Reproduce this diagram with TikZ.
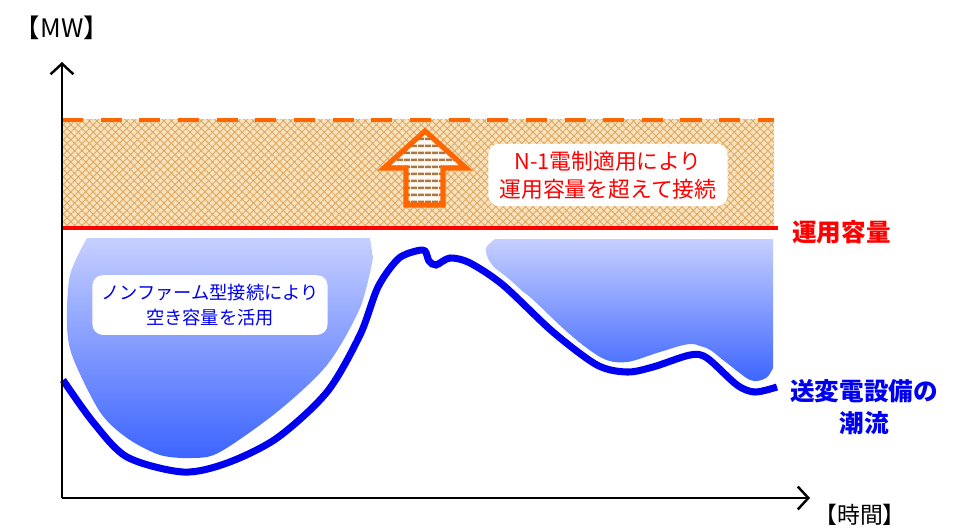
\documentclass[tikz,border=0pt]{standalone}
\usepackage{fontspec}
\newfontfamily\jp{Noto Sans CJK JP}
\usetikzlibrary{arrows.meta,patterns.meta,positioning}
\definecolor{capred}{RGB}{255,0,0}
\definecolor{flowblue}{RGB}{0,0,240}
\definecolor{bandorange}{RGB}{255,102,0}
\definecolor{bandbg}{RGB}{248,226,190}
\definecolor{hatchtan}{RGB}{222,168,96}
\definecolor{stripebrown}{RGB}{170,120,70}
\definecolor{fadeblue}{RGB}{198,208,255}
\definecolor{deepblue}{RGB}{60,100,255}
\begin{document}
\begin{tikzpicture}[x=0.02cm, y={(0,-0.02cm)}, font=\jp,
    axis/.style={line width=1.4pt, -{Straight Barb[length=6pt, width=13pt, line width=1.4pt]}},
    notebox/.style={fill=white, rounded corners=6pt, inner sep=4pt, align=center},
    region/.style={shade, top color=fadeblue, bottom color=deepblue}]
    \useasboundingbox (0,0) rectangle (955,531);
    % Band above the operating capacity
    \fill[bandbg] (62,119) rectangle (774,228);
    \fill[pattern={Hatch[angle=45, distance=3pt, line width=0.5pt]}, pattern color=hatchtan] (62,119) rectangle (774,228);
    \draw[bandorange, line width=2.6pt, dash pattern=on 12pt off 10pt] (62,120) -- (774,120);
    % Up arrow
    \fill[white!85!bandbg] (425,131) -- (466,168) -- (443,168) -- (443,205) -- (406,205) -- (406,168) -- (384,168) -- cycle;
    \fill[pattern={Lines[angle=0, distance=4pt, line width=1.6pt]}, pattern color=stripebrown] (425,131) -- (466,168) -- (443,168) -- (443,205) -- (406,205) -- (406,168) -- (384,168) -- cycle;
    \draw[bandorange, line width=3pt, line join=miter] (425,131) -- (466,168) -- (443,168) -- (443,205) -- (406,205) -- (406,168) -- (384,168) -- cycle;
    \node[notebox, text=capred, font=\jp\fontsize{12.4}{16}\selectfont, minimum width=240*0.567pt, minimum height=60*0.567pt] (over) at (608,175) {N-1電制適用により\\運用容量を超えて接続};
    % Free capacity regions
    \path[region] (87,238) -- (370,238) -- plot[smooth] coordinates {(373,258) (360,308) (327,365) (277,412) (220,452) (193,458) (160,455) (127,438) (100,412) (73,358) (67,325) (70,275) (87,238)} -- cycle;
    \path[region] (495,239) -- (773,239) -- plot[smooth] coordinates {(773,368) (766,378) (750,380) (720,358) (693,344) (660,352) (627,362) (600,358) (565,330) (530,297) (510,283) (490,262) (486,248) (495,239)} -- cycle;
    \node[notebox, text=flowblue, font=\jp\fontsize{10.4}{14}\selectfont, minimum width=236*0.567pt, minimum height=60*0.567pt] (nonfirm) at (210,305) {ノンファーム型接続により\\空き容量を活用};
    % Power flow
    \coordinate (f0) at (63,380);
    \draw[white, line width=9.5pt, line cap=round] plot[smooth] coordinates {(f0) (93,422) (127,457) (183,472) (227,463) (277,438) (327,392) (360,335) (378,287) (398,259) (416,251) (425,251) (429,261) (436,265) (450,258) (470,263) (503,285) (553,332) (597,365) (627,372) (653,367) (690,355) (707,358) (737,385) (755,392) (777,387)};
    \draw[flowblue, line width=4pt] plot[smooth] coordinates {(f0) (93,422) (127,457) (183,472) (227,463) (277,438) (327,392) (360,335) (378,287) (398,259) (416,251) (425,251) (429,261) (436,265) (450,258) (470,263) (503,285) (553,332) (597,365) (627,372) (653,367) (690,355) (707,358) (737,385) (755,392) (777,387)};
    % Operating capacity
    \coordinate (cap0) at (62,228);
    \coordinate (cap1) at (778,228);
    \draw[capred, line width=2.8pt] (cap0) -- (cap1);
    \node[anchor=west, text=capred, font=\jp\fontsize{14}{16}\selectfont\bfseries] (caplabel) at (786,232) {運用容量};
    \node[text=flowblue, font=\jp\fontsize{14}{18}\selectfont\bfseries, align=center] (flowlabel) at (864,407) {送変電設備の\\潮流};
    % Axes
    \coordinate (o) at (62,498);
    \coordinate (ytop) at (62,62);
    \coordinate (xend) at (810,498);
    \draw[axis] (o) -- (ytop);
    \draw[axis] (o) -- (xend);
    \node[font=\jp\fontsize{14.5}{16}\selectfont] (ylabel) at (62,28) {【MW】};
    \node[font=\jp\fontsize{13}{15}\selectfont] (xlabel) at (860,515) {【時間】};
\end{tikzpicture}
\end{document}
